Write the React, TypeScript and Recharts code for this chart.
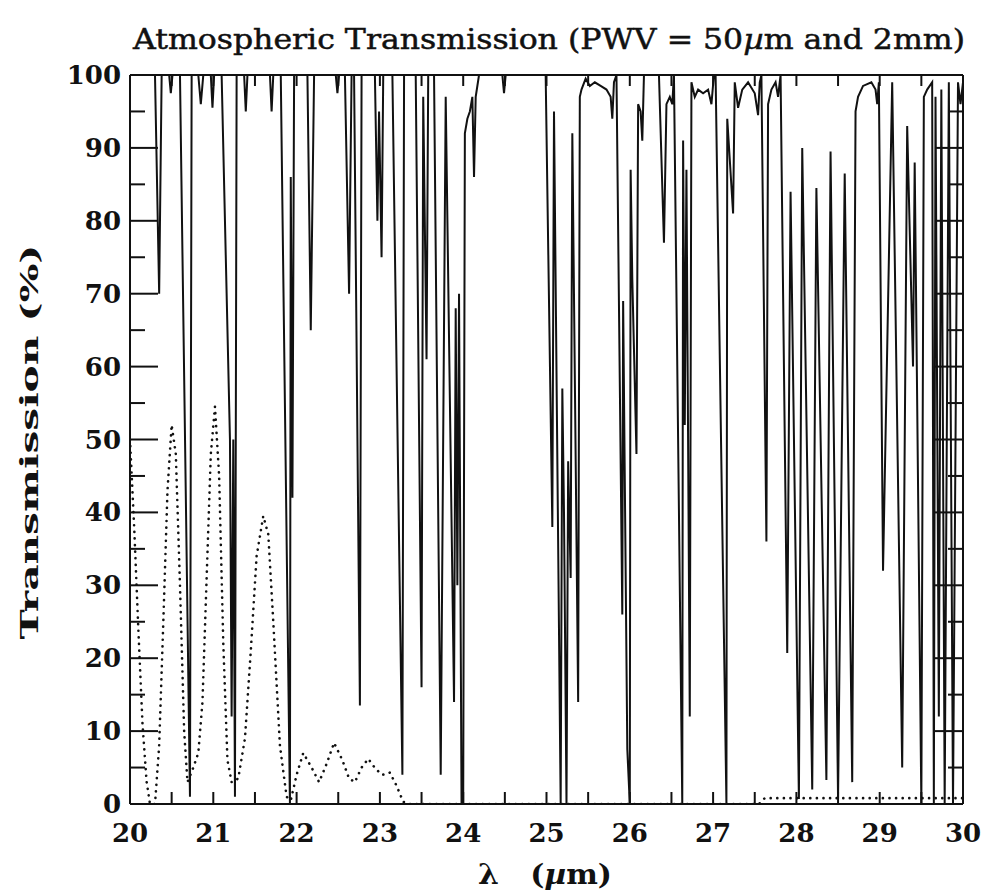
import { LineChart, Line, XAxis, YAxis } from 'recharts'

// PWV = 50 µm (solid line)
const dryWavelength = [
  20.0, 20.3, 20.35, 20.38, 20.47, 20.49, 20.51, 20.6, 20.72, 20.74,
  20.82, 20.85, 20.88, 20.97, 20.99, 21.01, 21.1, 21.2, 21.22, 21.24,
  21.26, 21.28, 21.37, 21.39, 21.41, 21.68, 21.7, 21.72, 21.81, 21.92,
  21.93, 21.95, 21.97, 22.13, 22.17, 22.21, 22.47, 22.49, 22.51, 22.58,
  22.63, 22.66, 22.69, 22.76, 22.78, 22.94, 22.97, 22.99, 23.02, 23.04,
  23.15, 23.27, 23.29, 23.43, 23.5, 23.52, 23.56, 23.58, 23.65, 23.73,
  23.79, 23.89, 23.91, 23.93, 23.95, 23.98, 24.0, 24.02, 24.05, 24.08,
  24.11, 24.13, 24.15, 24.19, 24.47, 24.49, 24.51, 24.99, 25.07, 25.09,
  25.17, 25.19, 25.21, 25.24, 25.26, 25.29, 25.31, 25.38, 25.4, 25.42,
  25.47, 25.52, 25.58, 25.65, 25.72, 25.77, 25.79, 25.81, 25.84, 25.91,
  25.92, 25.97, 26.0, 26.01, 26.03, 26.08, 26.1, 26.13, 26.15, 26.17,
  26.35, 26.41, 26.44, 26.48, 26.51, 26.53, 26.63, 26.64, 26.66, 26.68,
  26.72, 26.74, 26.78, 26.82, 26.88, 26.94, 26.98, 27.01, 27.03, 27.16,
  27.17, 27.24, 27.26, 27.3, 27.35, 27.42, 27.5, 27.54, 27.56, 27.58,
  27.64, 27.66, 27.7, 27.75, 27.78, 27.81, 27.89, 27.93, 28.03, 28.07,
  28.19, 28.24, 28.36, 28.41, 28.5, 28.58, 28.67, 28.71, 28.74, 28.8,
  28.9, 28.95, 28.97, 28.99, 29.04, 29.15, 29.27, 29.33, 29.4, 29.42,
  29.5, 29.53, 29.57, 29.63, 29.65, 29.67, 29.71, 29.74, 29.78, 29.83,
  29.88, 29.94, 29.97, 30.0,
]
const dryTransmission = [
  100, 100, 70, 100, 100, 97.5, 100, 100, 1, 100,
  100, 96, 100, 100, 95.5, 100, 100, 50, 12, 50,
  1, 100, 100, 95, 100, 100, 95, 100, 100, 0,
  86, 42, 100, 100, 65, 100, 100, 97.5, 100, 100,
  70, 100, 100, 13.5, 100, 100, 80, 95, 75, 100,
  100, 4, 100, 100, 16, 97, 61, 100, 100, 4,
  97, 14, 68, 30, 70, 0, 0, 92, 94, 95,
  97, 86, 97, 100, 100, 97.5, 100, 100, 38, 95,
  0, 57, 40, 0, 47, 31, 92, 14, 97, 98,
  99.5, 98.5, 99, 98.5, 98, 97, 94, 99, 100, 26,
  69, 7.5, 0, 87, 72, 48, 96, 95, 91, 100,
  100, 77, 96, 97, 96, 100, 0, 91, 52, 87,
  12, 99, 97, 98, 97.5, 98, 96, 100, 100, 0,
  94, 81, 99, 95.5, 98, 99, 97.5, 94.5, 99, 100,
  36, 96, 98, 99, 97, 100, 20.7, 84, 0.7, 90,
  2, 84.5, 3.3, 89.5, 0.7, 86.5, 3, 95, 97, 98.5,
  99, 98, 96, 99, 32, 99, 5, 93, 60, 88,
  0, 97, 98, 99, 0, 97, 12, 98, 0, 99,
  0, 99, 96, 99,
]

// PWV = 2 mm (dotted line)
const wetWavelength = [
  20.0, 20.05, 20.1, 20.15, 20.2, 20.24, 20.3, 20.35, 20.4, 20.45,
  20.5, 20.55, 20.6, 20.65, 20.69, 20.76, 20.82, 20.87, 20.92, 20.97,
  21.02, 21.07, 21.12, 21.17, 21.22, 21.3, 21.38, 21.45, 21.52, 21.6,
  21.66, 21.72, 21.8, 21.88, 21.93, 22.0, 22.08, 22.18, 22.27, 22.36,
  22.45, 22.55, 22.63, 22.7, 22.78, 22.86, 22.95, 23.03, 23.12, 23.2,
  23.28, 23.35, 27.55, 27.62, 30.0,
]
const wetTransmission = [
  50, 38, 24, 11, 3, 0, 0, 8, 25, 43,
  52, 48, 30, 10, 3, 5, 7, 14, 31, 48,
  54.5, 45, 22, 6, 3, 3.5, 9, 21, 34, 39.5,
  37, 25, 8, 1, 0.5, 4, 7, 5, 3, 5.5,
  8.4, 6, 3.5, 3, 5, 6.2, 4.8, 4, 4.3, 2.5,
  0.3, 0, 0, 0.8, 0.8,
]

const xTicks = [
  20, 20.5, 21, 21.5, 22, 22.5, 23, 23.5, 24, 24.5, 25,
  25.5, 26, 26.5, 27, 27.5, 28, 28.5, 29, 29.5, 30,
]
const yTicks = [
  0, 5, 10, 15, 20, 25, 30, 35, 40, 45, 50,
  55, 60, 65, 70, 75, 80, 85, 90, 95, 100,
]

const dryData = dryWavelength.map((x, i) => ({ x, y: dryTransmission[i] }))
const wetData = wetWavelength.map((x, i) => ({ x, y: wetTransmission[i] }))

const FONT = '"DejaVu Serif", "Liberation Serif", serif'
const INK = '#111'

function BottomTick({ x, y, payload }: any) {
  const v = payload.value
  return (
    <g>
      <line x1={x} y1={y} x2={x} y2={y - 12} stroke={INK} strokeWidth={2} />
      {Number.isInteger(v) && (
        <text x={x} y={y + 29} textAnchor="middle" dominantBaseline="central"
          fontFamily={FONT} fontWeight="bold" fontSize={26} fill={INK}>{v}</text>
      )}
    </g>
  )
}

function TopTick({ x, y }: any) {
  return <line x1={x} y1={y} x2={x} y2={y + 11} stroke={INK} strokeWidth={2} />
}

function LeftTick({ x, y, payload }: any) {
  const v = payload.value
  const major = v % 10 === 0
  return (
    <g>
      <line x1={x} y1={y} x2={x + (major ? 28 : 15)} y2={y} stroke={INK} strokeWidth={2} />
      {major && (
        <text x={x - 9} y={y} textAnchor="end" dominantBaseline="central"
          fontFamily={FONT} fontWeight="bold" fontSize={26} fill={INK}>{v}</text>
      )}
    </g>
  )
}

function RightTick({ x, y, payload }: any) {
  const major = payload.value % 10 === 0
  return <line x1={x} y1={y} x2={x - (major ? 28 : 15)} y2={y} stroke={INK} strokeWidth={2} />
}

export default function App() {
  const axisLine = { stroke: INK, strokeWidth: 2 }
  return (
    <div style={{ position: 'absolute', left: 0, top: 0, width: 984, height: 893, background: '#fff' }}>
      <LineChart width={984} height={893} margin={{ top: 74, right: 20, bottom: 39, left: 60 }}>
        <XAxis xAxisId="b" type="number" dataKey="x" domain={[20, 30]} allowDataOverflow
          ticks={xTicks} interval={0} height={50} tickSize={0} tickMargin={0}
          tickLine={false} axisLine={axisLine} tick={<BottomTick />} />
        <XAxis xAxisId="t" orientation="top" type="number" dataKey="x" domain={[20, 30]} allowDataOverflow
          ticks={xTicks} interval={0} height={1} tickSize={0} tickMargin={0}
          tickLine={false} axisLine={axisLine} tick={<TopTick />} />
        <YAxis yAxisId="l" type="number" domain={[0, 100]} allowDataOverflow
          ticks={yTicks} interval={0} width={70} tickSize={0} tickMargin={0}
          tickLine={false} axisLine={axisLine} tick={<LeftTick />} />
        <YAxis yAxisId="r" orientation="right" type="number" domain={[0, 100]} allowDataOverflow
          ticks={yTicks} interval={0} width={1} tickSize={0} tickMargin={0}
          tickLine={false} axisLine={axisLine} tick={<RightTick />} />
        <Line xAxisId="t" yAxisId="r" data={wetData} dataKey="y" type="linear" dot={false}
          stroke={INK} strokeWidth={2.6} strokeDasharray="0.1 6.5" strokeLinecap="round"
          isAnimationActive={false} />
        <Line xAxisId="b" yAxisId="l" data={dryData} dataKey="y" type="linear" dot={false}
          stroke={INK} strokeWidth={2} strokeLinejoin="miter" isAnimationActive={false} />
      </LineChart>
      <svg width={984} height={893} style={{ position: 'absolute', left: 0, top: 0, pointerEvents: 'none' }}>
        <text x={549} y={49} textAnchor="middle" fontFamily={FONT} fontSize={28} fill={INK}
          stroke={INK} strokeWidth={0.5}
          textLength={832} lengthAdjust="spacingAndGlyphs">
          Atmospheric Transmission (PWV = 50<tspan fontStyle="italic">µ</tspan>m and 2mm)
        </text>
        <text transform="translate(29,442) rotate(-90)" textAnchor="middle" dominantBaseline="central"
          fontFamily={FONT} fontWeight="bold" fontSize={25} fill={INK}
          textLength={395} lengthAdjust="spacingAndGlyphs">Transmission (%)</text>
        <text x={545} y={884} textAnchor="middle" fontFamily={FONT} fontWeight="bold" fontSize={27} fill={INK}
          textLength={134} lengthAdjust="spacingAndGlyphs" style={{ whiteSpace: 'pre' }}>
          λ   (<tspan fontStyle="italic">µ</tspan>m)
        </text>
      </svg>
    </div>
  )
}
